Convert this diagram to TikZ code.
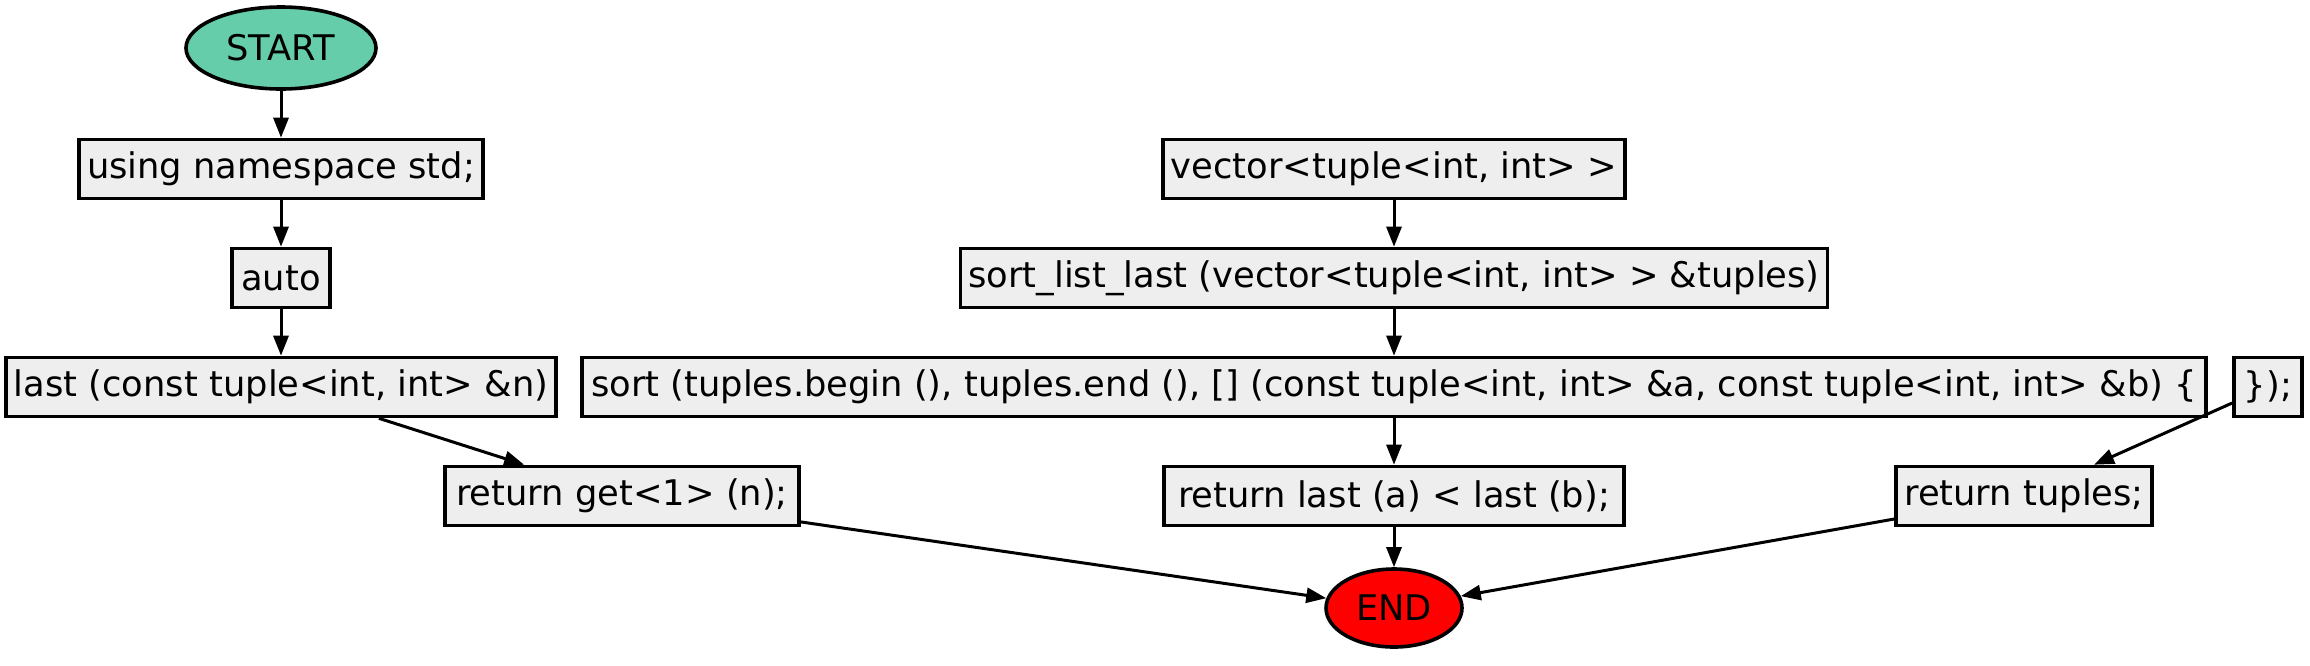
\documentclass[tikz,border=0pt]{standalone}
\usepackage{fontspec}
\setmainfont{DejaVu Sans}
\usetikzlibrary{shapes.geometric,arrows.meta}

\definecolor{codefill}{RGB}{238,238,238}
\definecolor{startfill}{RGB}{102,205,170}
\definecolor{endfill}{RGB}{255,0,0}

\begin{document}
\begin{tikzpicture}[x=0.5pt, y=-0.5pt,
  every node/.style={font=\fontsize{17.65}{20}\selectfont},
  codebox/.style={draw, line width=1.8pt, fill=codefill, rectangle,
    minimum height=29.5pt, inner xsep=4pt, inner ysep=0pt},
  terminal/.style={draw, line width=1.8pt, ellipse, inner sep=0pt},
  flow/.style={-{Triangle[length=10pt,width=7.5pt]}, line width=1.5pt}]

  \useasboundingbox (0,0) rectangle (2310,665);

  % --- linke Spalte: last ---
  \node[terminal, fill=startfill, minimum width=95pt, minimum height=41pt]
      (start) at (281,48) {START};
  \node[codebox, minimum width=202pt] (using) at (281,169) {using namespace std;};
  \node[codebox, minimum width=49pt]  (auto)  at (281,278) {auto};
  \node[codebox, minimum width=275pt] (last)  at (281,387)
      {last (const tuple<int, int> \&n)};
  \node[codebox, minimum width=177pt] (retget) at (622,496) {return get<1> (n);};

  % --- mittlere Spalte: sort_list_last ---
  \node[codebox, minimum width=228pt] (vector)   at (1394,169) {vector<tuple<int, int> >};
  \node[codebox, minimum width=433pt] (sortlist) at (1394,278)
      {sort\_list\_last (vector<tuple<int, int> > \&tuples)};
  \node[codebox, minimum width=812pt] (sort)     at (1394,387)
      {sort (tuples.begin (), tuples.end (), [] (const tuple<int, int> \&a, const tuple<int, int> \&b) \{};
  \node[codebox, minimum width=34pt]  (close)    at (2268,387) {\});};
  \node[codebox, minimum width=230pt] (retless)  at (1394,496)
      {return last (a) < last (b);};
  \node[codebox, minimum width=128pt] (rettuples) at (2024,496) {return tuples;};

  \node[terminal, fill=endfill, minimum width=68pt, minimum height=39pt]
      (end) at (1394,608) {END};

  % --- Kanten ---
  \draw[flow] (start) -- (using);
  \draw[flow] (using) -- (auto);
  \draw[flow] (auto) -- (last);
  \draw[flow] (last) -- (retget);
  \draw[flow] (retget) -- (end);

  \draw[flow] (vector) -- (sortlist);
  \draw[flow] (sortlist) -- (sort);
  \draw[flow] (sort) -- (retless);
  \draw[flow] (retless) -- (end);
  \draw[flow] (close) -- (rettuples);
  \draw[flow] (rettuples) -- (end);

\end{tikzpicture}
\end{document}
